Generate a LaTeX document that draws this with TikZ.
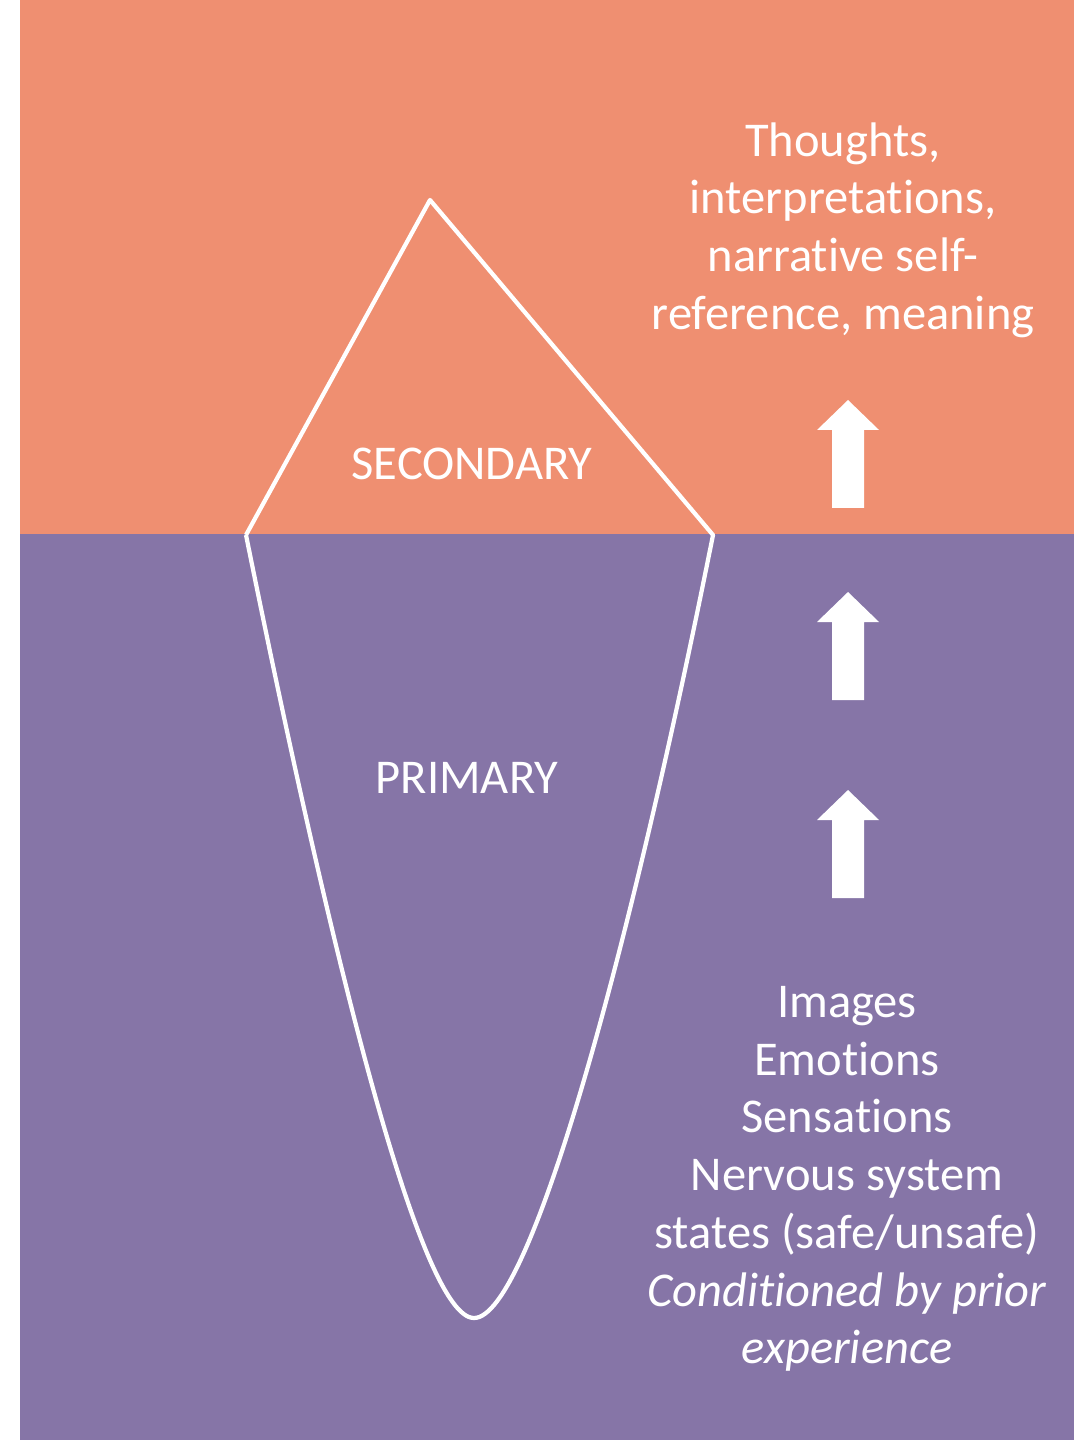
\documentclass[tikz,border=0pt]{standalone}
\usepackage{fontspec}
\setmainfont{Carlito}[Script=Latin, Ligatures={NoCommon,NoContextual}, RawFeature={-liga;-clig;-calt;-dlig;-rlig;-ccmp;-hlig}]
\usepackage{tikz}
\definecolor{abovecol}{HTML}{EF8F71}
\definecolor{belowcol}{HTML}{8675A7}

\begin{document}
\begin{tikzpicture}[x=0.01cm, y=-0.01cm,
  every node/.style={text=white, align=center, font=\fontsize{13.8}{16.4}\selectfont},
  iceline/.style={draw=white, line width=1.2pt, line join=round},
  uparr/.pic={\fill[white] (0,0) -- (31,30) -- (16,30) -- (16,108) -- (-16,108) -- (-16,30) -- (-31,30) -- cycle;}]
  \useasboundingbox (0,0) rectangle (1074,1440);

  % water: above and below
  \fill[abovecol] (20,0) rectangle (1074,534);
  \fill[belowcol] (20,534) rectangle (1074,1440);

  % iceberg
  \coordinate (tip) at (430,200);
  \coordinate (wl) at (246,535);
  \coordinate (wr) at (713,535);
  \coordinate (keel) at (474,1318);
  \draw[iceline] (wl) -- (tip) -- (wr)
     .. controls (630,950) and (530,1318) .. (keel)
     .. controls (420,1318) and (330,950) .. (wl);

  \node (sec) at (472,464) {SECONDARY};
  \node (pri) at (467,778) {PRIMARY};

  % arrows
  \foreach \y in {400,592,790}
    \pic at (848,\y) {uparr};

  \node (upper) at (843,230) {Thoughts,\\interpretations,\\narrative self-\\reference, meaning};
  \node (lower) at (847,1179) {Images\\Emotions\\Sensations\\Nervous system\\states (safe/unsafe)\\\textit{Conditioned by prior}\\\textit{experience}};
\end{tikzpicture}
\end{document}
